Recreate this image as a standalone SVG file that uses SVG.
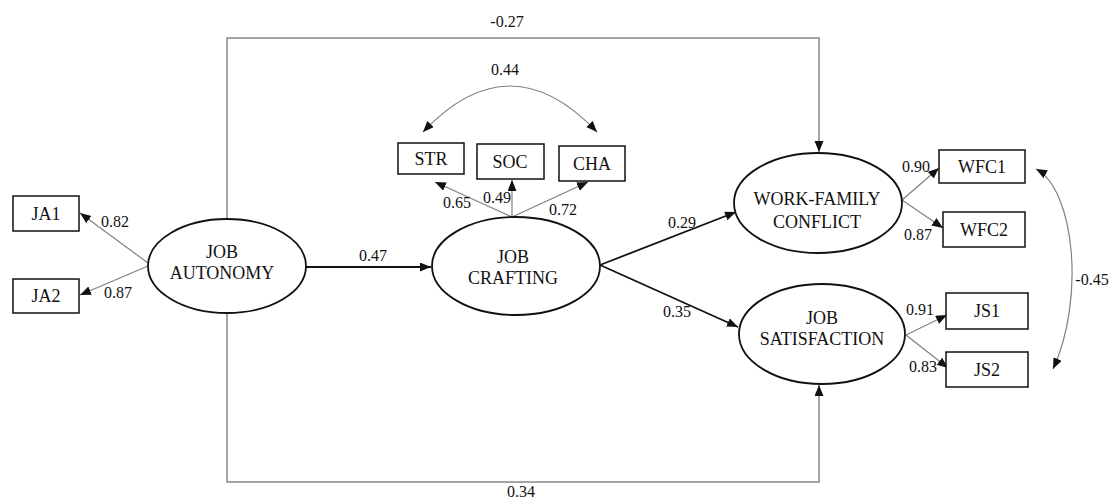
<svg xmlns="http://www.w3.org/2000/svg" width="1109" height="499" viewBox="0 0 1109 499" font-family="Liberation Serif, DejaVu Serif, serif">
<style>
text{font-family:'Liberation Serif','DejaVu Serif',serif;fill:#111;text-anchor:middle}
.lbl{font-size:16px}
.nt{font-size:18px}
.box{fill:#fff;stroke:#111;stroke-width:1.5}
.lat{fill:#fff;stroke:#111;stroke-width:1.8}
.thin{fill:none;stroke:#808080;stroke-width:1.2}
.gray{fill:none;stroke:#888;stroke-width:1.5}
.bold{fill:none;stroke:#111;stroke-width:1.8}
</style>
<defs>
<marker id="ah" markerUnits="userSpaceOnUse" markerWidth="12" markerHeight="10" refX="11" refY="4.5" orient="auto-start-reverse">
<path d="M0,0 L11,4.5 L0,9 z" fill="#111"/>
</marker>
</defs>
<g id="connectors">
<polyline class="gray" points="227,219 227,38 819,38 819,152" marker-end="url(#ah)"/>
<polyline class="gray" points="227,313 227,482 819,482 819,385" marker-end="url(#ah)"/>
<line class="bold" x1="306" y1="267" x2="431" y2="267" marker-end="url(#ah)"/>
<line class="bold" x1="600" y1="265" x2="736" y2="212" marker-end="url(#ah)"/>
<line class="bold" x1="600" y1="265" x2="738" y2="327" marker-end="url(#ah)"/>
<line class="thin" x1="148" y1="263" x2="80" y2="213" marker-end="url(#ah)"/>
<line class="thin" x1="148" y1="266" x2="80" y2="295" marker-end="url(#ah)"/>
<line class="thin" x1="512" y1="217" x2="435" y2="182" marker-end="url(#ah)"/>
<line class="thin" x1="512" y1="217" x2="512" y2="180" marker-end="url(#ah)"/>
<line class="thin" x1="512" y1="217" x2="588" y2="182" marker-end="url(#ah)"/>
<line class="thin" x1="902" y1="200" x2="939" y2="168" marker-end="url(#ah)"/>
<line class="thin" x1="902" y1="200" x2="943" y2="228" marker-end="url(#ah)"/>
<line class="thin" x1="906" y1="335" x2="947" y2="315" marker-end="url(#ah)"/>
<line class="thin" x1="906" y1="335" x2="948" y2="368" marker-end="url(#ah)"/>
<path class="thin" d="M423,132 Q510,40 597,132" marker-start="url(#ah)" marker-end="url(#ah)"/>
<path class="thin" d="M1036,169 C1075,190 1085,300 1053,369" marker-start="url(#ah)" marker-end="url(#ah)"/>
<text class="lbl" x="507" y="27">-0.27</text>
<text class="lbl" x="521" y="497">0.34</text>
<text class="lbl" x="505" y="75">0.44</text>
<text class="lbl" x="115" y="227">0.82</text>
<text class="lbl" x="118" y="298">0.87</text>
<text class="lbl" x="373" y="261">0.47</text>
<text class="lbl" x="457" y="208">0.65</text>
<text class="lbl" x="497" y="203">0.49</text>
<text class="lbl" x="563" y="215">0.72</text>
<text class="lbl" x="682" y="228">0.29</text>
<text class="lbl" x="677" y="317">0.35</text>
<text class="lbl" x="916" y="172">0.90</text>
<text class="lbl" x="918" y="240">0.87</text>
<text class="lbl" x="920" y="315">0.91</text>
<text class="lbl" x="923" y="372">0.83</text>
<text class="lbl" x="1092" y="285">-0.45</text>
</g>
<g id="ja">
<ellipse class="lat" cx="227" cy="266" rx="79" ry="47"/>
<text class="nt" x="222" y="258">JOB</text>
<text class="nt" x="222" y="279">AUTONOMY</text>
</g>
<g id="jc">
<ellipse class="lat" cx="516" cy="266" rx="84" ry="49"/>
<text class="nt" x="513" y="263">JOB</text>
<text class="nt" x="513" y="284">CRAFTING</text>
</g>
<g id="wfc">
<ellipse class="lat" cx="818" cy="203" rx="84" ry="50"/>
<text class="nt" x="817" y="205">WORK-FAMILY</text>
<text class="nt" x="817" y="228">CONFLICT</text>
</g>
<g id="js">
<ellipse class="lat" cx="822" cy="334" rx="83" ry="50"/>
<text class="nt" x="822" y="324">JOB</text>
<text class="nt" x="822" y="345">SATISFACTION</text>
</g>
<g id="ja1"><rect class="box" x="13" y="196" width="66" height="35"/><text class="nt" x="46" y="220">JA1</text></g>
<g id="ja2"><rect class="box" x="13" y="279" width="66" height="34"/><text class="nt" x="46" y="302">JA2</text></g>
<g id="str"><rect class="box" x="398" y="143" width="66" height="31"/><text class="nt" x="431" y="165">STR</text></g>
<g id="soc"><rect class="box" x="477" y="144" width="67" height="35"/><text class="nt" x="510" y="168">SOC</text></g>
<g id="cha"><rect class="box" x="559" y="146" width="66" height="35"/><text class="nt" x="592" y="170">CHA</text></g>
<g id="wfc1"><rect class="box" x="939" y="150" width="86" height="33"/><text class="nt" x="982" y="173">WFC1</text></g>
<g id="wfc2"><rect class="box" x="943" y="212" width="82" height="35"/><text class="nt" x="984" y="236">WFC2</text></g>
<g id="js1"><rect class="box" x="946" y="293" width="82" height="36"/><text class="nt" x="987" y="317">JS1</text></g>
<g id="js2"><rect class="box" x="946" y="352" width="82" height="35"/><text class="nt" x="987" y="376">JS2</text></g>
</svg>
